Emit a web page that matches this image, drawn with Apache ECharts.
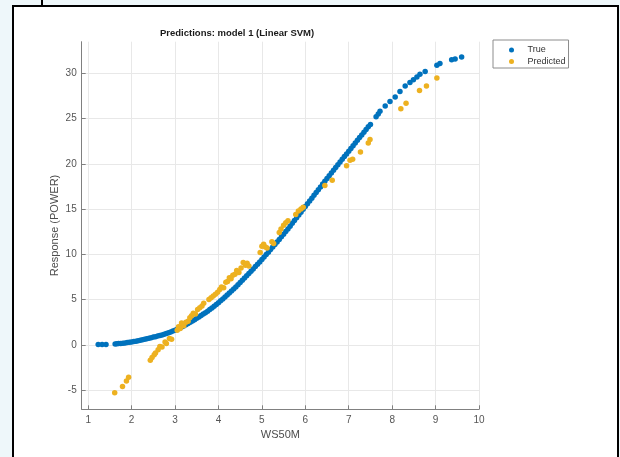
<!DOCTYPE html>
<html>
<head>
<meta charset="utf-8">
<script src="https://cdn.jsdelivr.net/npm/echarts@6/dist/echarts.min.js"></script>
<style>
  html, body { margin: 0; padding: 0; background: #fff; }
  #main { width: 620px; height: 457px; }
</style>
</head>
<body>
<div id="main"></div>
<script>
// True response (blue)
var trueX = [1.23, 1.32, 1.41, 1.62, 1.66, 1.70, 1.75, 1.80, 1.85, 1.90, 1.95, 2.00, 2.05, 2.10, 2.15, 2.20,
  2.25, 2.30, 2.35, 2.40, 2.45, 2.50, 2.55, 2.60, 2.65, 2.70, 2.75, 2.80, 2.85, 2.90, 2.95, 3.00,
  3.05, 3.10, 3.15, 3.20, 3.25, 3.30, 3.35, 3.40, 3.45, 3.50, 3.55, 3.60, 3.65, 3.70, 3.75, 3.80,
  3.85, 3.90, 3.95, 4.00, 4.05, 4.10, 4.15, 4.20, 4.25, 4.30, 4.35, 4.40, 4.45, 4.50, 4.55, 4.60,
  4.65, 4.70, 4.75, 4.80, 4.85, 4.90, 4.95, 5.00, 5.05, 5.10, 5.15, 5.20, 5.25, 5.30, 5.35, 5.40,
  5.45, 5.50, 5.55, 5.60, 5.65, 5.70, 5.75, 5.80, 5.85, 5.90, 5.95, 6.00, 6.05, 6.10, 6.15, 6.20,
  6.25, 6.30, 6.35, 6.40, 6.45, 6.50, 6.55, 6.60, 6.65, 6.70, 6.75, 6.80, 6.85, 6.90, 6.95, 7.00,
  7.05, 7.10, 7.15, 7.20, 7.25, 7.30, 7.35, 7.40, 7.45, 7.50,
  7.63, 7.68, 7.72, 7.84, 7.95, 8.07, 8.18, 8.30, 8.41, 8.49, 8.57, 8.64, 8.76, 9.03, 9.10, 9.37, 9.45, 9.60];
var trueY = [0.02, 0.02, 0.03, 0.10, 0.11, 0.13, 0.15, 0.18, 0.21, 0.24, 0.27, 0.31, 0.35, 0.40, 0.45, 0.50,
  0.55, 0.61, 0.67, 0.73, 0.79, 0.85, 0.90, 0.96, 1.02, 1.08, 1.16, 1.24, 1.33, 1.42, 1.52, 1.62,
  1.73, 1.84, 1.96, 2.08, 2.21, 2.34, 2.48, 2.62, 2.77, 2.92, 3.07, 3.23, 3.39, 3.55, 3.72, 3.90,
  4.08, 4.27, 4.46, 4.66, 4.86, 5.07, 5.28, 5.50, 5.72, 5.94, 6.17, 6.40, 6.64, 6.88, 7.12, 7.37,
  7.62, 7.87, 8.12, 8.38, 8.64, 8.90, 9.16, 9.43, 9.70, 9.97, 10.24, 10.52, 10.80, 11.08, 11.36, 11.65,
  11.94, 12.23, 12.52, 12.80, 13.11, 13.42, 13.73, 14.04, 14.35, 14.66, 14.97, 15.28, 15.59, 15.90, 16.21, 16.52,
  16.83, 17.14, 17.45, 17.76, 18.07, 18.38, 18.69, 19.00, 19.30, 19.60, 19.90, 20.20, 20.50, 20.80, 21.10, 21.40,
  21.70, 22.00, 22.30, 22.60, 22.90, 23.20, 23.50, 23.80, 24.10, 24.35,
  25.2, 25.5, 25.8, 26.4, 26.9, 27.4, 28.0, 28.6, 29.0, 29.3, 29.6, 29.9, 30.2, 30.9, 31.1, 31.5, 31.6, 31.8];

// Predicted response (yellow)
var predX = [1.61, 1.79, 1.88, 1.93, 2.43, 2.47, 2.52, 2.55, 2.61, 2.65, 2.70, 2.77, 2.80, 2.87, 2.92,
  3.05, 3.08, 3.12, 3.15, 3.20, 3.25, 3.30, 3.34, 3.38, 3.42, 3.47, 3.52, 3.57, 3.62, 3.66,
  3.78, 3.83, 3.88, 3.93, 3.98, 4.03, 4.07, 4.12, 4.17, 4.21, 4.25, 4.29, 4.33, 4.38, 4.42,
  4.47, 4.52, 4.57, 4.62, 4.66, 4.70, 4.96, 5.00, 5.04, 5.08, 5.12, 5.23, 5.27, 5.40, 5.44,
  5.50, 5.55, 5.60, 5.78, 5.84, 5.90, 5.95, 6.45, 6.62, 6.95, 7.03, 7.09, 7.27, 7.45, 7.49,
  8.20, 8.32, 8.63, 8.79, 9.03];
var predY = [-5.3, -4.6, -4.0, -3.6, -1.7, -1.4, -1.1, -0.9, -0.55, -0.2, -0.25, 0.3, 0.15, 0.7, 0.6,
  1.6, 2.0, 1.8, 2.4, 2.1, 2.5, 2.6, 3.0, 3.2, 3.5, 3.4, 3.9, 4.1, 4.3, 4.6,
  5.0, 5.2, 5.4, 5.6, 5.8, 6.1, 6.4, 6.3, 6.9, 7.0, 7.4, 7.3, 7.7, 7.8, 8.2,
  8.0, 8.5, 9.1, 8.8, 9.0, 8.7, 10.2, 10.9, 11.1, 10.8, 10.7, 11.4, 11.2, 12.4, 12.8,
  13.2, 13.5, 13.7, 14.4, 14.8, 15.0, 15.2, 17.6, 18.2, 19.8, 20.4, 20.5, 21.3, 22.3, 22.7,
  26.1, 26.7, 28.1, 28.6, 29.5];

var xTicks = [1, 2, 3, 4, 5, 6, 7, 8, 9, 10];
var yTicks = [-5, 0, 5, 10, 15, 20, 25, 30];

var trueData = trueX.map(function (x, i) { return [x, trueY[i]]; });
var predData = predX.map(function (x, i) { return [x, predY[i]]; });

var font = 'Liberation Sans, Arial, sans-serif';
var myChart = echarts.init(document.getElementById('main'));
myChart.setOption({
  backgroundColor: '#fff',
  animation: false,
  textStyle: { fontFamily: font },
  title: {
    text: 'Predictions: model 1 (Linear SVM)',
    left: 160, top: 28, padding: 0,
    textStyle: { fontSize: 9.5, fontWeight: 'bold', color: '#1a1a1a', fontFamily: font }
  },
  legend: {
    orient: 'vertical',
    left: 493, top: 40,
    padding: [5.5, 3, 2, 16],
    itemGap: 2.5,
    itemWidth: 22, itemHeight: 5,
    borderColor: '#8c8c8c', borderWidth: 1,
    textStyle: { fontSize: 9, color: '#333', fontFamily: font },
    data: ['True', 'Predicted']
  },
  graphic: [
    { type: 'rect', z: -20, shape: { x: 0, y: 0, width: 620, height: 457 }, style: { fill: '#eef7fa' } },
    { type: 'rect', z: -15, shape: { x: 13, y: 6, width: 605, height: 470 }, style: { fill: '#fff', stroke: '#000', lineWidth: 2 } },
    { type: 'line', z: -15, shape: { x1: 42, y1: 0, x2: 42, y2: 6 }, style: { stroke: '#000', lineWidth: 2 } }
  ],
  grid: { left: 81.7, right: 141, top: 41.7, bottom: 47.7, containLabel: false },
  xAxis: {
    type: 'value', min: 0.85, max: 10,
    name: 'WS50M', nameLocation: 'middle', nameGap: 20, nameMoveOverlap: false,
    nameTextStyle: { fontSize: 11, color: '#4d4d4d', fontFamily: font },
    axisLine: { onZero: false, lineStyle: { color: '#808080', width: 1 } },
    axisTick: { inside: true, length: 4, customValues: xTicks, lineStyle: { color: '#808080' } },
    axisLabel: { customValues: xTicks, margin: 6, fontSize: 10, color: '#555', fontFamily: font },
    splitLine: { show: true, lineStyle: { color: '#e8e8e8', width: 1 } }
  },
  yAxis: {
    type: 'value', min: -7.13, max: 33.5,
    name: 'Response (POWER)', nameLocation: 'middle', nameGap: 21, nameMoveOverlap: false,
    nameTextStyle: { fontSize: 11, color: '#4d4d4d', fontFamily: font },
    axisLine: { show: true, onZero: false, lineStyle: { color: '#808080', width: 1 } },
    axisTick: { show: true, inside: true, length: 4, customValues: yTicks, lineStyle: { color: '#808080' } },
    axisLabel: { customValues: yTicks, margin: 5, fontSize: 10, color: '#555', fontFamily: font },
    splitLine: { show: true, lineStyle: { color: '#e8e8e8', width: 1 } }
  },
  series: [
    {
      name: 'True', type: 'scatter', symbol: 'circle', symbolSize: 5.5,
      itemStyle: { color: '#0072BD', opacity: 1 },
      data: trueData
    },
    {
      name: 'Predicted', type: 'scatter', symbol: 'circle', symbolSize: 5.5,
      itemStyle: { color: '#EDB120', opacity: 1 },
      data: predData
    }
  ]
});
</script>
</body>
</html>
